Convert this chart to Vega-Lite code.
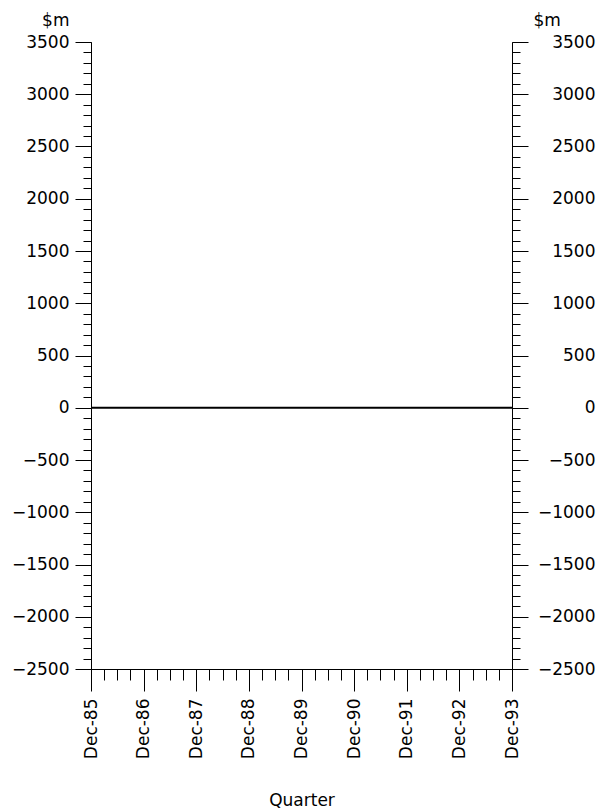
{
  "$schema": "https://vega.github.io/schema/vega-lite/v6.json",
  "width": 421,
  "height": 627,
  "autosize": {"type": "none"},
  "padding": {"left": 91, "top": 42, "right": 88, "bottom": 142},
  "background": "white",
  "config": {
    "view": {"stroke": null},
    "axis": {
      "labelFont": "DejaVu Sans",
      "labelFontSize": 17,
      "labelColor": "#000",
      "titleFont": "DejaVu Sans",
      "titleFontSize": 17,
      "titleFontWeight": "normal",
      "titleColor": "#000",
      "tickColor": "#000",
      "domainColor": "#000",
      "tickWidth": 1,
      "domainWidth": 1,
      "grid": false
    }
  },
  "data": {
    "values": [
      {"quarter": "Dec-85", "value": 0},
      {"quarter": "Mar-86", "value": 0},
      {"quarter": "Jun-86", "value": 0},
      {"quarter": "Sep-86", "value": 0},
      {"quarter": "Dec-86", "value": 0},
      {"quarter": "Mar-87", "value": 0},
      {"quarter": "Jun-87", "value": 0},
      {"quarter": "Sep-87", "value": 0},
      {"quarter": "Dec-87", "value": 0},
      {"quarter": "Mar-88", "value": 0},
      {"quarter": "Jun-88", "value": 0},
      {"quarter": "Sep-88", "value": 0},
      {"quarter": "Dec-88", "value": 0},
      {"quarter": "Mar-89", "value": 0},
      {"quarter": "Jun-89", "value": 0},
      {"quarter": "Sep-89", "value": 0},
      {"quarter": "Dec-89", "value": 0},
      {"quarter": "Mar-90", "value": 0},
      {"quarter": "Jun-90", "value": 0},
      {"quarter": "Sep-90", "value": 0},
      {"quarter": "Dec-90", "value": 0},
      {"quarter": "Mar-91", "value": 0},
      {"quarter": "Jun-91", "value": 0},
      {"quarter": "Sep-91", "value": 0},
      {"quarter": "Dec-91", "value": 0},
      {"quarter": "Mar-92", "value": 0},
      {"quarter": "Jun-92", "value": 0},
      {"quarter": "Sep-92", "value": 0},
      {"quarter": "Dec-92", "value": 0},
      {"quarter": "Mar-93", "value": 0},
      {"quarter": "Jun-93", "value": 0},
      {"quarter": "Sep-93", "value": 0},
      {"quarter": "Dec-93", "value": 0}
    ]
  },
  "resolve": {"axis": {"x": "independent", "y": "independent"}},
  "layer": [
    {
      "mark": {"type": "line", "color": "#000", "strokeWidth": 1.8},
      "encoding": {
        "x": {
          "field": "quarter", "type": "ordinal", "sort": null,
          "scale": {"type": "point", "padding": 0},
          "axis": {
            "orient": "bottom",
            "values": ["Dec-85", "Dec-86", "Dec-87", "Dec-88", "Dec-89", "Dec-90", "Dec-91", "Dec-92", "Dec-93"],
            "tickSize": 22,
            "labelAngle": -90,
            "labelAlign": "right",
            "labelBaseline": "middle",
            "labelPadding": 7,
            "title": "Quarter",
            "titleX": 210.5,
            "titleY": 136,
            "titleAlign": "center",
            "titleBaseline": "alphabetic"
          }
        },
        "y": {
          "field": "value", "type": "quantitative",
          "scale": {"domain": [-2500, 3500], "nice": false, "zero": false},
          "axis": {
            "orient": "left",
            "values": [-2500, -2000, -1500, -1000, -500, 0, 500, 1000, 1500, 2000, 2500, 3000, 3500],
            "format": "d",
            "tickSize": 16,
            "labelPadding": 6,
            "labelBaseline": "middle",
            "title": "$m",
            "titleAngle": 0,
            "titleX": -22,
            "titleY": -17,
            "titleAlign": "right",
            "titleBaseline": "alphabetic"
          }
        }
      }
    },
    {
      "mark": {"type": "line", "opacity": 0},
      "encoding": {
        "x": {
          "field": "quarter", "type": "ordinal", "sort": null,
          "scale": {"type": "point", "padding": 0},
          "axis": {"orient": "bottom", "tickSize": 11, "labels": false, "title": null, "domain": true}
        },
        "y": {
          "field": "value", "type": "quantitative",
          "axis": {
            "orient": "left",
            "values": [-2400, -2300, -2200, -2100, -1900, -1800, -1700, -1600, -1400, -1300, -1200, -1100, -900, -800, -700, -600, -400, -300, -200, -100, 100, 200, 300, 400, 600, 700, 800, 900, 1100, 1200, 1300, 1400, 1600, 1700, 1800, 1900, 2100, 2200, 2300, 2400, 2600, 2700, 2800, 2900, 3100, 3200, 3300, 3400],
            "tickSize": 8,
            "labels": false,
            "title": null
          }
        }
      }
    },
    {
      "mark": {"type": "line", "opacity": 0},
      "encoding": {
        "x": {
          "field": "quarter", "type": "ordinal", "sort": null,
          "scale": {"type": "point", "padding": 0},
          "axis": null
        },
        "y": {
          "field": "value", "type": "quantitative",
          "axis": {
            "orient": "right",
            "values": [-2500, -2000, -1500, -1000, -500, 0, 500, 1000, 1500, 2000, 2500, 3000, 3500],
            "format": "d",
            "tickSize": 16,
            "labelAlign": "right",
            "labelBaseline": "middle",
            "labelPadding": 67,
            "title": "$m",
            "titleAngle": 0,
            "titleX": 21,
            "titleY": -17,
            "titleAlign": "left",
            "titleBaseline": "alphabetic"
          }
        }
      }
    },
    {
      "mark": {"type": "line", "opacity": 0},
      "encoding": {
        "x": {
          "field": "quarter", "type": "ordinal", "sort": null,
          "scale": {"type": "point", "padding": 0},
          "axis": null
        },
        "y": {
          "field": "value", "type": "quantitative",
          "axis": {
            "orient": "right",
            "values": [-2400, -2300, -2200, -2100, -1900, -1800, -1700, -1600, -1400, -1300, -1200, -1100, -900, -800, -700, -600, -400, -300, -200, -100, 100, 200, 300, 400, 600, 700, 800, 900, 1100, 1200, 1300, 1400, 1600, 1700, 1800, 1900, 2100, 2200, 2300, 2400, 2600, 2700, 2800, 2900, 3100, 3200, 3300, 3400],
            "tickSize": 8,
            "labels": false,
            "title": null
          }
        }
      }
    }
  ]
}
